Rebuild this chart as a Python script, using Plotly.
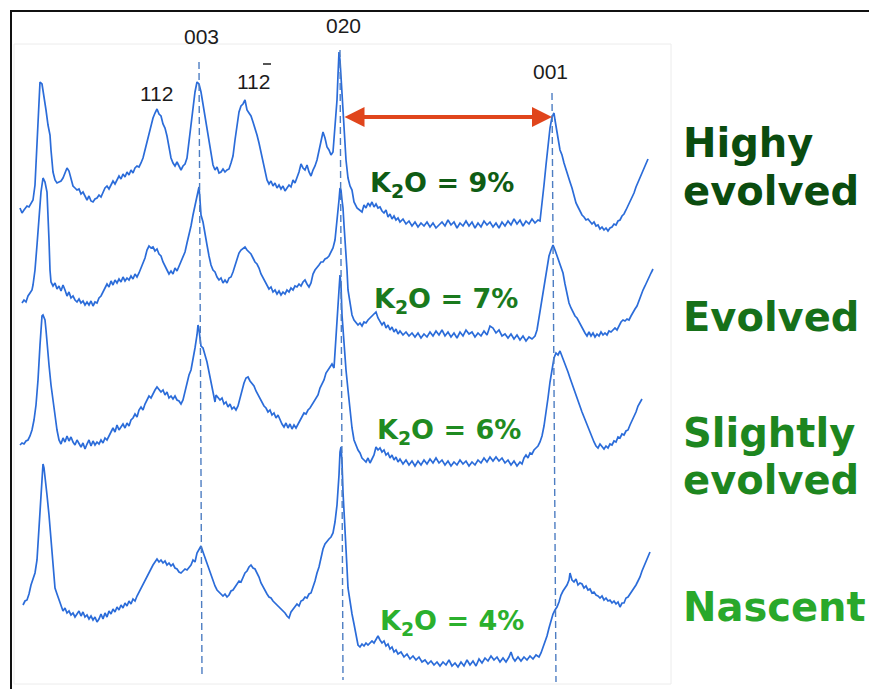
import plotly.graph_objects as go

highly_evolved = [(20,208),(22,213),(24,210),(27,206),(29,207),(31,203),(33,200),(35,185),(37,140),(39,100),(40,82),(42,84),(44,95),(46,110),(48,125),(50,135),(51,150),(53,172),(55,180),(57,183),(59,182),(61,181),(63,178),(65,172),(67,168),(69,171),(71,178),(73,186),(75,188),(77,190),(79,189),(81,194),(83,192),(85,197),(87,200),(89,196),(91,201),(93,202),(95,199),(97,198),(99,195),(101,197),(103,193),(105,188),(107,186),(109,189),(111,185),(113,181),(115,184),(117,180),(119,176),(121,179),(123,174),(125,177),(127,172),(129,175),(131,170),(133,173),(135,168),(137,166),(139,167),(141,163),(143,158),(145,150),(147,142),(149,133),(151,124),(153,118),(155,113),(157,109),(159,114),(161,116),(163,124),(165,128),(167,136),(169,146),(171,158),(173,163),(175,166),(177,162),(179,167),(181,170),(183,166),(185,164),(187,158),(189,140),(191,122),(193,105),(195,92),(197,82),(199,84),(201,92),(203,104),(205,115),(207,130),(209,142),(211,155),(213,165),(215,170),(217,167),(219,173),(221,172),(223,169),(225,172),(227,170),(229,169),(231,163),(233,156),(235,140),(237,125),(239,112),(241,106),(243,104),(245,100),(247,110),(249,113),(251,116),(253,122),(255,128),(257,135),(259,143),(261,152),(263,162),(265,172),(267,180),(269,184),(271,181),(273,186),(275,183),(277,188),(279,185),(281,189),(283,186),(285,191),(287,188),(289,185),(291,187),(293,180),(295,183),(297,178),(299,172),(301,164),(303,168),(305,170),(307,165),(309,172),(311,176),(313,170),(315,166),(317,160),(319,150),(321,140),(323,132),(325,138),(327,147),(329,150),(331,155),(333,152),(335,130),(337,100),(338,75),(339,52),(340,60),(341,78),(342,95),(343,108),(344,120),(345,140),(346,160),(348,178),(350,186),(352,190),(354,202),(357,208),(360,210),(362,212),(364,205),(366,208),(368,203),(370,206),(372,202),(374,207),(376,204),(378,208),(380,207),(382,211),(384,213),(386,210),(388,217),(390,214),(392,219),(394,216),(396,220),(398,218),(400,222),(403,219),(406,224),(409,221),(412,226),(415,222),(418,227),(421,223),(424,226),(427,222),(430,227),(433,223),(436,228),(439,225),(442,222),(445,226),(448,220),(451,225),(454,222),(457,228),(460,223),(463,226),(466,221),(469,226),(472,222),(475,228),(478,223),(481,227),(484,221),(487,225),(490,222),(493,227),(496,223),(499,228),(502,222),(505,226),(508,221),(511,225),(514,219),(517,224),(520,220),(523,226),(526,221),(529,224),(532,219),(535,223),(538,220),(540,221),(542,205),(544,185),(546,165),(548,145),(550,128),(552,117),(554,113),(555,120),(556,125),(558,138),(560,150),(562,155),(564,163),(566,170),(568,175),(570,182),(572,188),(574,195),(576,203),(578,207),(580,212),(582,215),(584,217),(586,220),(588,219),(590,222),(592,224),(594,222),(596,226),(598,225),(600,229),(602,227),(604,230),(606,228),(608,231),(610,228),(612,227),(614,224),(616,225),(618,221),(620,220),(622,216),(624,214),(626,210),(628,206),(630,202),(632,198),(634,193),(636,187),(638,182),(640,177),(642,172),(644,168),(646,163),(648,159)]

evolved = [(22,303),(24,300),(26,302),(28,296),(30,293),(32,290),(33,285),(35,270),(37,245),(39,215),(41,192),(43,178),(45,182),(47,192),(48,210),(49,240),(50,270),(51,282),(53,286),(55,283),(57,289),(59,286),(61,291),(63,285),(65,290),(67,296),(69,292),(71,298),(73,296),(75,300),(77,302),(79,299),(81,303),(83,301),(85,305),(87,302),(89,305),(91,301),(93,306),(95,302),(97,303),(99,298),(101,296),(103,291),(105,288),(107,284),(109,287),(111,281),(113,285),(115,280),(117,283),(119,279),(121,282),(123,277),(125,281),(127,278),(129,280),(131,276),(133,279),(135,274),(137,277),(139,273),(141,268),(143,262),(145,258),(147,250),(149,246),(151,248),(153,247),(155,251),(157,249),(159,254),(161,256),(163,262),(165,267),(167,270),(169,274),(171,271),(173,274),(175,268),(177,271),(179,266),(181,262),(183,258),(185,252),(187,243),(189,235),(191,226),(193,215),(195,205),(197,196),(199,187),(200,200),(201,215),(203,222),(205,232),(207,245),(209,256),(211,265),(213,270),(215,272),(217,277),(219,280),(221,278),(223,283),(225,280),(227,283),(229,278),(231,277),(233,272),(235,266),(237,259),(239,253),(241,250),(243,248),(245,247),(247,250),(249,252),(251,254),(253,258),(255,262),(257,264),(259,268),(261,274),(263,278),(265,282),(267,285),(269,289),(271,287),(273,292),(275,290),(277,294),(279,291),(281,295),(283,292),(285,294),(287,290),(289,292),(291,288),(293,290),(295,286),(297,287),(299,284),(301,286),(303,282),(305,280),(307,284),(309,287),(311,283),(313,274),(315,270),(317,268),(319,265),(321,262),(323,262),(325,259),(327,258),(329,256),(331,252),(333,248),(335,240),(337,222),(339,200),(340,188),(341,190),(342,200),(343,208),(344,225),(345,238),(346,250),(347,270),(348,290),(350,305),(352,315),(354,320),(356,322),(358,325),(360,323),(362,326),(364,322),(366,323),(368,320),(370,318),(372,316),(374,314),(376,312),(378,318),(380,322),(382,325),(384,322),(386,328),(388,325),(390,330),(392,327),(394,332),(396,329),(398,334),(400,331),(403,335),(406,332),(409,336),(412,333),(415,337),(418,333),(421,338),(424,334),(427,337),(430,332),(433,336),(436,331),(439,335),(442,330),(445,336),(448,332),(451,337),(454,333),(457,338),(460,332),(463,336),(466,330),(469,334),(472,332),(475,337),(478,333),(481,336),(484,331),(487,335),(490,326),(493,328),(496,333),(499,330),(502,336),(505,334),(508,338),(511,334),(514,339),(517,335),(520,340),(523,336),(526,341),(529,337),(532,339),(535,336),(537,330),(539,318),(541,304),(543,290),(545,278),(547,266),(549,256),(551,250),(553,245),(555,250),(557,256),(559,262),(561,266),(563,273),(565,284),(567,295),(569,303),(571,308),(573,312),(575,316),(577,318),(579,322),(581,326),(583,330),(585,333),(587,336),(589,332),(591,336),(593,333),(595,337),(597,334),(599,336),(601,332),(603,335),(605,333),(607,335),(609,331),(611,332),(613,330),(615,328),(617,330),(619,326),(621,322),(623,320),(625,321),(627,319),(629,320),(631,316),(633,312),(635,309),(637,306),(639,300),(641,295),(643,290),(645,286),(647,281),(649,277),(651,273),(653,269)]

slightly_evolved = [(20,445),(22,443),(24,444),(26,441),(28,440),(30,436),(32,430),(34,420),(36,405),(38,380),(40,345),(41,325),(42,316),(43,315),(44,317),(45,320),(46,330),(47,345),(48,350),(49,365),(51,385),(53,398),(55,415),(57,430),(59,440),(61,444),(63,438),(65,442),(67,436),(69,441),(71,437),(73,442),(75,445),(77,440),(79,444),(81,447),(83,443),(85,449),(87,444),(89,440),(91,446),(93,441),(95,445),(97,442),(99,444),(101,440),(103,443),(105,438),(107,440),(109,436),(111,433),(113,428),(115,432),(117,425),(119,430),(121,427),(123,424),(125,428),(127,423),(129,426),(131,420),(133,418),(135,414),(137,417),(139,410),(141,407),(143,410),(145,404),(147,400),(149,396),(151,398),(153,393),(155,390),(157,387),(159,390),(161,392),(163,390),(165,395),(167,392),(169,398),(171,396),(173,399),(175,396),(177,400),(179,401),(181,404),(183,400),(185,392),(187,382),(189,375),(191,370),(193,360),(195,348),(197,335),(198,325),(199,330),(200,342),(201,346),(203,348),(205,354),(207,362),(209,372),(211,382),(213,392),(215,402),(216,395),(218,397),(220,400),(222,398),(224,404),(226,402),(228,407),(230,404),(232,409),(234,407),(236,410),(238,406),(240,398),(242,390),(244,383),(246,378),(248,377),(250,381),(252,384),(254,386),(256,391),(258,395),(260,399),(262,402),(264,406),(266,408),(268,412),(270,410),(272,415),(274,413),(276,418),(278,415),(280,420),(282,424),(284,427),(286,423),(288,428),(290,424),(292,429),(294,425),(296,428),(298,424),(300,420),(302,416),(304,413),(306,414),(308,410),(310,408),(312,405),(314,402),(316,398),(318,395),(320,388),(322,384),(324,380),(326,373),(328,370),(330,367),(332,364),(334,368),(335,350),(337,320),(339,290),(340,275),(341,285),(342,315),(344,345),(346,370),(348,390),(350,410),(352,428),(354,440),(356,446),(358,450),(360,453),(362,458),(364,460),(366,462),(368,458),(370,463),(372,459),(374,455),(376,447),(378,450),(380,448),(382,452),(384,450),(386,455),(388,453),(390,458),(392,455),(394,460),(396,457),(398,462),(400,459),(403,464),(406,460),(409,465),(412,461),(415,466),(418,461),(421,465),(424,460),(427,464),(430,459),(433,463),(436,458),(439,463),(442,460),(445,465),(448,461),(451,466),(454,462),(457,465),(460,460),(463,464),(466,461),(469,466),(472,462),(475,465),(478,460),(481,463),(484,458),(487,462),(490,457),(493,461),(496,457),(499,461),(502,458),(505,463),(508,460),(511,465),(514,461),(517,466),(520,462),(522,464),(524,458),(526,455),(528,458),(530,453),(532,454),(534,450),(536,448),(538,446),(540,442),(542,436),(544,426),(546,414),(548,398),(550,382),(552,368),(554,358),(556,353),(558,355),(560,351),(562,356),(564,360),(566,366),(568,372),(570,378),(572,384),(574,388),(576,396),(578,402),(580,406),(582,412),(584,417),(586,422),(588,428),(590,434),(592,438),(594,442),(596,446),(598,448),(600,444),(602,447),(604,449),(606,446),(608,448),(610,444),(612,445),(614,441),(616,442),(618,437),(620,438),(622,434),(624,435),(626,431),(628,430),(630,425),(632,421),(634,416),(636,412),(638,406),(640,402),(642,399)]

nascent = [(23,605),(25,601),(27,600),(29,594),(31,585),(33,580),(35,573),(37,560),(39,530),(41,495),(43,464),(44,468),(45,480),(47,495),(49,515),(51,540),(53,568),(55,588),(57,594),(59,600),(61,606),(63,611),(65,608),(67,613),(69,611),(71,615),(73,613),(75,617),(77,614),(79,611),(81,616),(83,612),(85,617),(87,615),(89,619),(91,616),(93,620),(95,617),(97,622),(99,619),(101,614),(103,619),(105,613),(107,617),(109,611),(111,614),(113,609),(115,612),(117,607),(119,610),(121,605),(123,608),(125,603),(127,606),(129,601),(131,604),(133,599),(135,601),(137,596),(139,592),(141,588),(143,584),(145,580),(147,576),(149,572),(151,568),(153,565),(155,562),(157,559),(159,562),(161,560),(163,563),(165,561),(167,565),(169,563),(171,566),(173,564),(175,568),(177,569),(179,572),(181,573),(183,571),(185,569),(187,570),(189,567),(191,565),(193,560),(195,562),(197,553),(199,550),(201,546),(203,552),(205,558),(207,564),(209,568),(211,575),(213,580),(215,586),(217,590),(219,592),(221,594),(223,596),(225,594),(227,597),(229,595),(231,591),(233,590),(235,587),(237,584),(239,581),(241,582),(243,577),(245,573),(247,571),(249,567),(251,565),(253,568),(255,569),(257,573),(259,577),(261,583),(263,587),(265,591),(267,594),(269,597),(271,598),(273,601),(275,603),(277,604),(279,607),(281,608),(283,610),(285,613),(287,616),(289,618),(291,612),(293,609),(295,607),(297,604),(299,606),(301,601),(303,600),(305,597),(307,598),(309,594),(311,593),(313,588),(315,581),(317,573),(319,567),(321,558),(323,549),(325,544),(327,541),(329,539),(331,537),(333,533),(335,522),(337,505),(339,475),(340,452),(341,447),(342,462),(343,492),(344,508),(345,528),(346,548),(347,568),(348,588),(350,602),(352,614),(354,624),(356,636),(358,645),(360,647),(362,644),(364,646),(366,643),(368,645),(370,643),(372,641),(374,643),(376,639),(378,636),(380,640),(382,643),(384,641),(386,646),(388,644),(390,649),(392,647),(394,652),(396,650),(398,654),(401,652),(404,657),(407,654),(410,659),(413,656),(416,660),(419,657),(422,662),(425,660),(428,664),(431,661),(434,665),(437,662),(440,666),(443,662),(446,665),(449,660),(452,666),(455,663),(458,667),(461,662),(464,666),(467,660),(470,665),(473,661),(476,666),(479,659),(482,663),(485,658),(488,661),(491,656),(494,660),(497,657),(500,662),(503,658),(506,662),(509,657),(511,652),(513,658),(515,661),(518,657),(521,661),(524,657),(527,660),(530,656),(533,659),(536,655),(539,657),(541,653),(543,648),(545,642),(547,636),(549,628),(551,620),(553,614),(555,610),(557,607),(559,602),(561,595),(563,591),(565,588),(567,585),(569,580),(570,573),(572,580),(574,582),(576,579),(578,585),(580,583),(582,584),(584,588),(586,586),(588,590),(590,589),(592,593),(594,592),(596,595),(598,596),(600,598),(602,596),(604,600),(606,598),(608,601),(610,600),(612,603),(614,601),(616,604),(618,602),(620,607),(622,603),(624,603),(626,598),(628,597),(630,594),(632,592),(634,588),(636,585),(638,581),(640,577),(642,571),(644,566),(646,561),(648,556),(650,552)]

# ---- reflections (dashed reference lines) ----
peak_names = ["003", "112", "112", "020", "001"]
peak_label_x = [201, 156, 253, 343, 550]
peak_label_y = [36, 93, 81, 25, 71]
ref_x_top = [199, 340, 552]
ref_x_bottom = [202, 343, 556]
ref_y_top = [62, 50, 93]
ref_y_bottom = [678, 680, 682]

# ---- K2O labels ----
k2o_values = ["9%", "7%", "6%", "4%"]
k2o_x = [442, 446, 449, 452]
k2o_y = [184, 300, 431, 622]
k2o_colors = ["#0f5c14", "#1a7a1d", "#1f8b21", "#2bb02d"]

# ---- stage labels ----
stage_lines = ["Highy", "evolved", "Evolved", "Slightly", "evolved", "Nascent"]
stage_y = [143, 191, 317, 433, 480, 607]
stage_colors = ["#0b4c0f", "#0b4c0f", "#167019", "#1d861f", "#1d861f", "#29a82b"]

TRACE_COLOR = "#2b6cd9"

fig = go.Figure()

for pts in [highly_evolved, evolved, slightly_evolved, nascent]:
    fig.add_trace(go.Scatter(x=[p[0] for p in pts], y=[p[1] for p in pts], mode="lines",
                             line=dict(color=TRACE_COLOR, width=1.7), hoverinfo="skip"))

for xt, xb, yt, yb in zip(ref_x_top, ref_x_bottom, ref_y_top, ref_y_bottom):
    fig.add_trace(go.Scatter(x=[xt, xb], y=[yt, yb], mode="lines",
                             line=dict(color="#4d7dc2", width=1.4, dash="7px,4px"), hoverinfo="skip"))

annotations = []
for name, lx, ly in zip(peak_names, peak_label_x, peak_label_y):
    annotations.append(dict(x=lx, y=ly, xref="x", yref="y", text=name, showarrow=False,
                            font=dict(family="Liberation Sans, Arial", size=21, color="#1c1c1c"),
                            xanchor="center", yanchor="middle"))

# double-headed arrow between 020 and 001
annotations.append(dict(x=ref_x_top[2], y=117, ax=ref_x_top[1] + 3, ay=117, xref="x", yref="y",
                        axref="x", ayref="y", text="", showarrow=True, arrowside="end+start",
                        arrowhead=2, startarrowhead=2, arrowsize=1, startarrowsize=1,
                        arrowwidth=4, arrowcolor="#e0451c", standoff=0, startstandoff=0))

for val, kx, ky, kc in zip(k2o_values, k2o_x, k2o_y, k2o_colors):
    annotations.append(dict(x=kx, y=ky, xref="x", yref="y", text="K<sub>2</sub>O = " + val,
                            showarrow=False, xanchor="center", yanchor="middle",
                            font=dict(family="DejaVu Sans", size=27, color=kc, weight="bold")))

for txt, sy, sc in zip(stage_lines, stage_y, stage_colors):
    annotations.append(dict(x=681, y=sy, xref="x", yref="y", text=txt, showarrow=False,
                            xanchor="left", yanchor="middle",
                            font=dict(family="DejaVu Sans", size=40, color=sc, weight="bold")))

shapes = [
    # faint inner panel
    dict(type="rect", xref="x", yref="y", x0=14, y0=44, x1=671, y1=684,
         line=dict(color="#ececec", width=1), layer="below"),
    # black frame (top and left)
    dict(type="line", xref="x", yref="y", x0=10, y0=11, x1=869, y1=11, line=dict(color="#111111", width=2)),
    dict(type="line", xref="x", yref="y", x0=11, y0=10, x1=11, y1=689, line=dict(color="#111111", width=2)),
    # overline on the bar-2 index
    dict(type="line", xref="x", yref="y", x0=peak_label_x[2] + 10, y0=64, x1=peak_label_x[2] + 18, y1=64,
         line=dict(color="#1c1c1c", width=1.5)),
]

fig.update_layout(
    width=869, height=689, autosize=False,
    margin=dict(l=0, r=0, t=0, b=0, pad=0),
    paper_bgcolor="white", plot_bgcolor="white",
    showlegend=False,
    xaxis=dict(range=[0, 869], visible=False, fixedrange=True),
    yaxis=dict(range=[689, 0], visible=False, fixedrange=True),
    annotations=annotations, shapes=shapes,
)

fig.write_html("out.html")
